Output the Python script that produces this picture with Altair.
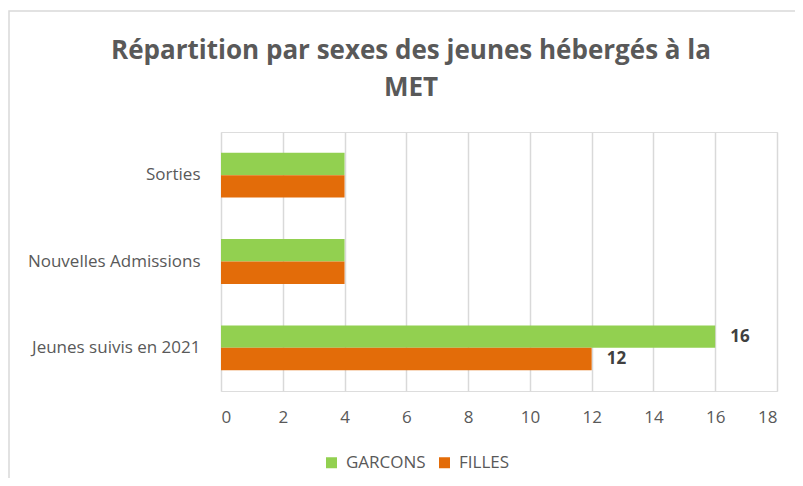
import altair as alt
import pandas as pd

title_lines = ["Répartition par sexes des jeunes hébergés à la", "MET"]
categories = ["Sorties", "Nouvelles Admissions", "Jeunes suivis en 2021"]
garcons = [4, 4, 16]
filles = [4, 4, 12]
series = ["GARCONS", "FILLES"]
x_ticks = [0, 2, 4, 6, 8, 10, 12, 14, 16, 18]
labeled_category = "Jeunes suivis en 2021"

rows = []
for c, g, f in zip(categories, garcons, filles):
    rows.append({"cat": c, "sexe": "GARCONS", "val": g})
    rows.append({"cat": c, "sexe": "FILLES", "val": f})
df = pd.DataFrame(rows)

FONT = "Open Sans"
GREY = "#595959"
W, H = 556, 259

base = alt.Chart(df).encode(
    y=alt.Y("cat:N", sort=categories, title=None,
            scale=alt.Scale(paddingInner=0.48, paddingOuter=0.24),
            axis=alt.Axis(labelFontSize=17, labelColor=GREY, labelFont=FONT,
                          ticks=False, domain=False, labelPadding=21, grid=False)),
    yOffset=alt.YOffset("sexe:N", sort=series, scale=alt.Scale(paddingInner=0, paddingOuter=0)),
)

bars = base.mark_bar().encode(
    x=alt.X("val:Q", title=None,
            scale=alt.Scale(domain=[0, 18], nice=False),
            axis=alt.Axis(values=x_ticks, labelFontSize=17, labelColor=GREY, labelFont=FONT,
                          ticks=False, domain=False, labelPadding=18,
                          grid=True, gridColor="#D9D9D9", gridWidth=1.5)),
    color=alt.Color("sexe:N", sort=series,
                    scale=alt.Scale(domain=series, range=["#92D050", "#E36C09"]),
                    legend=alt.Legend(title=None, orient="none", direction="horizontal",
                                      legendX=102, legendY=322, symbolType="square",
                                      symbolSize=121, symbolStrokeWidth=0,
                                      labelFontSize=17, labelColor=GREY, labelFont=FONT,
                                      columnPadding=10, labelOffset=6)),
)

labels = base.transform_filter(
    alt.datum.cat == labeled_category
).mark_text(align="left", baseline="middle", dx=15, fontSize=17,
            fontWeight="bold", color="#404040", font=FONT).encode(
    x=alt.X("val:Q"),
    text=alt.Text("val:Q"),
)

title_layers = []
for i, line in enumerate(title_lines):
    title_layers.append(
        alt.Chart(pd.DataFrame({"t": [line]})).mark_text(
            align="center", baseline="middle", fontSize=26, fontWeight="bold",
            color=GREY, font=FONT
        ).encode(x=alt.value(190), y=alt.value(-81 + 37 * i), text="t:N")
    )

frame = alt.Chart(pd.DataFrame({"a": [0]})).mark_rect(
    fill="transparent", stroke="#D9D9D9", strokeWidth=1.5
).encode(
    x=alt.value(-212), x2=alt.value(W + 40),
    y=alt.value(-121), y2=alt.value(H + 120),
)

chart = alt.layer(frame, bars, labels, *title_layers).properties(
    width=W, height=H,
    padding={"left": 213, "top": 124, "right": 18, "bottom": 87},
    autosize=alt.AutoSizeParams(type="none"),
).configure_view(stroke=None).configure(background="white")

chart.save("out.html", embed_options={"renderer": "svg", "actions": False})
